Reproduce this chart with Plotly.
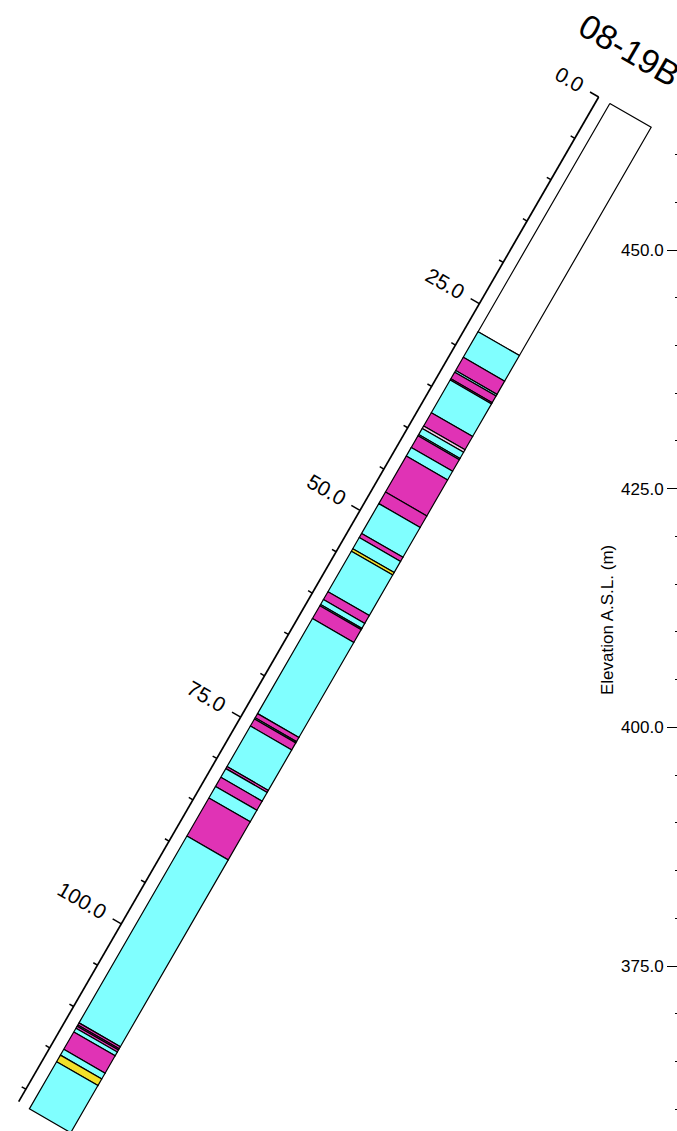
import numpy as np
import plotly.graph_objects as go

# ---------------- data ----------------
hole_name = "08-19B"
collar_x = 0.0          # horizontal distance (m)
collar_elev = 464.1     # elevation of collar (m A.S.L.)
dip_deg = 60.0          # inclination of hole
hole_width = 5.0        # drawn width of the log strip (m)

layer_top = [0.0, 27.6, 30.7, 32.3, 32.5, 33.3, 33.45, 37.4, 39.0, 39.3, 40.05, 40.2,
             41.6, 42.65, 47.0, 48.4, 52.0, 52.5, 53.85, 54.15, 59.05, 60.0, 60.6,
             60.75, 62.3, 73.8, 74.3, 74.45, 75.3, 80.2, 80.45, 81.5, 82.6, 84.0,
             88.6, 111.2, 111.45, 111.6, 111.85, 112.3, 114.4, 115.1, 115.9]
layer_bottom = layer_top[1:] + [121.6]
layer_lith = ["none", "cyan", "magenta", "cyan", "magenta", "magenta", "cyan", "magenta",
              "pink", "cyan", "cyan", "magenta", "cyan", "magenta", "magenta", "cyan",
              "magenta", "cyan", "yellow", "cyan", "magenta", "cyan", "cyan", "magenta",
              "cyan", "magenta", "cyan", "magenta", "cyan", "magenta", "cyan", "magenta",
              "cyan", "magenta", "cyan", "magenta", "magenta", "magenta", "cyan",
              "magenta", "cyan", "yellow", "cyan"]
lith_colors = {"none": "#FFFFFF", "cyan": "#80FFFF", "magenta": "#E033B5",
               "yellow": "#F2E02A", "pink": "#F6C8EA"}

depth_ticks = list(range(0, 121, 5))
depth_major = [0, 25, 50, 75, 100]
depth_labels = ["0.0", "25.0", "50.0", "75.0", "100.0"]

elev_major = [375, 400, 425, 450]
elev_minor = [360, 365, 370, 380, 385, 390, 395, 405, 410, 415, 420, 430, 435, 440,
              445, 455, 460]
elev_title = "Elevation A.S.L. (m)"

# ---------------- geometry ----------------
s = 9.547  # px per metre (same on both axes)
W, H = 677, 1131
xmin = collar_x - 630.5 / s
xmax = xmin + W / s
ymax = collar_elev + 115.4 / s
ymin = ymax - H / s

d = np.radians(dip_deg)
u = np.array([-np.cos(d), -np.sin(d)])   # down-hole direction
p = np.array([np.sin(d), -np.cos(d)])    # perpendicular (to the right of strip)
C0 = np.array([collar_x, collar_elev])


def centre(depth):
    return C0 + depth * u


fig = go.Figure()

# strip layers
for t, b, lith in zip(layer_top, layer_bottom, layer_lith):
    a1 = centre(t) - hole_width / 2 * p
    a2 = centre(t) + hole_width / 2 * p
    a3 = centre(b) + hole_width / 2 * p
    a4 = centre(b) - hole_width / 2 * p
    xs = [a1[0], a2[0], a3[0], a4[0], a1[0]]
    ys = [a1[1], a2[1], a3[1], a4[1], a1[1]]
    fig.add_trace(go.Scatter(x=xs, y=ys, mode="lines", fill="toself",
                             fillcolor=lith_colors[lith],
                             line=dict(color="black", width=1.2),
                             hoverinfo="skip", showlegend=False))

# depth axis (offset to the left of the strip)
axis_off = -(hole_width / 2 + 1.35)


def axis_pt(depth):
    return centre(depth) + axis_off * p


a_start = axis_pt(0)
a_end = axis_pt(layer_bottom[-1] - 0.1)
fig.add_trace(go.Scatter(x=[a_start[0], a_end[0]], y=[a_start[1], a_end[1]],
                         mode="lines", line=dict(color="black", width=1.7),
                         hoverinfo="skip", showlegend=False))

tx, ty = [], []
for dt in depth_ticks:
    ln = 1.05 if dt in depth_major else 0.5
    q0 = axis_pt(dt)
    q1 = q0 - ln * p
    tx += [q0[0], q1[0], None]
    ty += [q0[1], q1[1], None]
fig.add_trace(go.Scatter(x=tx, y=ty, mode="lines", line=dict(color="black", width=1.5),
                         hoverinfo="skip", showlegend=False))

font_fam = "Liberation Sans, Arial, sans-serif"
lab_size = 21
for dm, lab in zip(depth_major, depth_labels):
    half_w = 0.5 * (lab_size * (0.556 * (len(lab) - 1) + 0.278)) / s
    q = axis_pt(dm) - (2.0 + half_w) * p - 0.1 * u
    fig.add_annotation(x=q[0], y=q[1], text=lab, showarrow=False, textangle=30,
                       xanchor="center", yanchor="middle",
                       font=dict(size=lab_size, color="black", family=font_fam))

# title
tpos = C0 + np.array([-0.1, 6.9])
fig.add_annotation(x=tpos[0], y=tpos[1], text=hole_name, showarrow=False, textangle=30,
                   xanchor="center", yanchor="middle",
                   font=dict(size=34, color="black", family=font_fam))

# elevation axis title
fig.add_annotation(x=607 / W, y=1 - 620 / H, xref="paper", yref="paper",
                   text=elev_title, showarrow=False, textangle=-90,
                   xanchor="center", yanchor="middle",
                   font=dict(size=17, color="black", family=font_fam))

fig.update_layout(
    width=W, height=H, autosize=False,
    margin=dict(l=0, r=0, t=0, b=0),
    paper_bgcolor="white", plot_bgcolor="white",
    xaxis=dict(range=[xmin, xmax], visible=False, fixedrange=True, domain=[0, 1]),
    yaxis=dict(range=[ymin, ymax], anchor="free", position=1.0, side="left",
               tickmode="array", tickvals=elev_major,
               ticktext=[f"{v:.1f}" for v in elev_major],
               ticks="outside", ticklen=10, tickwidth=1.3, tickcolor="black",
               showgrid=False, zeroline=False, showline=False, automargin=False,
               tickfont=dict(size=17, color="black", family=font_fam),
               minor=dict(tickmode="array", tickvals=elev_minor, ticks="outside",
                          ticklen=2, tickcolor="black", tickwidth=1.3, showgrid=False)),
    showlegend=False,
)

fig.write_html("out.html", config={"displayModeBar": False},
               post_script="document.body.style.margin='0px';")
